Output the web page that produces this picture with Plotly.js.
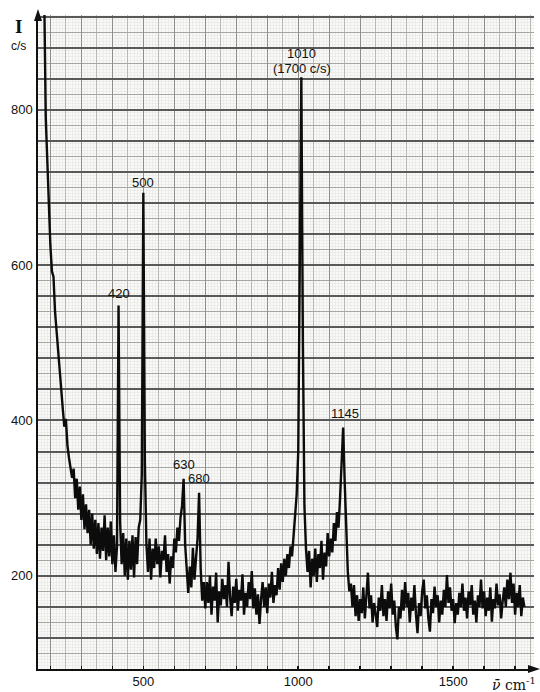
<!DOCTYPE html>
<html>
<head>
<meta charset="utf-8">
<script src="https://cdn.plot.ly/plotly-3.0.1.min.js"></script>
<style>
  html, body { margin: 0; padding: 0; background: #ffffff; }
  #chart { width: 540px; height: 692px; }
</style>
</head>
<body>
<div id="chart"></div>
<script>
// Raman scan: recorder sampled every 5 cm-1 starting at 175 cm-1
const scanStart = 175;
const scanStep = 5;

// Count rate (c/s), one value per sampling step
const intensity = [
  1000, 950, 790, 730, 680, 625, 592, 585, 540, 512,   // 175-220
  485, 462, 440, 415, 392, 402, 368, 352, 340, 326,    // 225-270
  338, 300, 325, 285, 315, 272, 305, 260, 292, 255,    // 275-320
  285, 240, 280, 235, 272, 228, 268, 222, 262, 232,    // 325-370
  278, 220, 262, 225, 270, 215, 252, 205, 238, 548,    // 375-420
  270, 215, 255, 200, 248, 195, 245, 208, 252, 198,    // 425-470
  250, 215, 262, 272, 330, 693, 345, 240, 205, 248,    // 475-520
  195, 235, 210, 248, 215, 238, 198, 232, 220, 252,    // 525-570
  205, 228, 190, 225, 210, 248, 230, 262, 245, 275,    // 575-620
  290, 325, 240, 205, 178, 212, 185, 236, 195, 222,    // 625-670
  248, 307, 210, 168, 192, 158, 192, 165, 200, 150,    // 675-720
  186, 168, 204, 140, 180, 162, 196, 170, 188, 160,    // 725-770
  218, 172, 148, 186, 165, 196, 155, 182, 168, 202,    // 775-820
  150, 178, 160, 192, 170, 206, 158, 184, 150, 176,    // 825-870
  138, 170, 192, 160, 185, 152, 190, 172, 205, 165,    // 875-920
  188, 175, 210, 182, 216, 192, 222, 200, 228, 210,    // 925-970
  238, 225, 255, 275, 305, 360, 560, 842, 500, 290,    // 975-1020
  235, 205, 232, 185, 222, 200, 235, 192, 228, 210,    // 1025-1070
  245, 195, 230, 212, 255, 225, 248, 230, 268, 245,    // 1075-1120
  282, 262, 300, 340, 391, 320, 248, 205, 180, 190,    // 1125-1170
  160, 188, 148, 175, 142, 170, 152, 185, 145, 178,    // 1175-1220
  204, 158, 175, 140, 165, 150, 134, 172, 155, 188,    // 1225-1270
  148, 170, 142, 180, 158, 190, 150, 168, 135, 118,    // 1275-1320
  160, 145, 182, 155, 192, 160, 178, 140, 172, 155,    // 1325-1370
  188, 150, 126, 165, 148, 180, 195, 158, 175, 145,    // 1375-1420
  128, 170, 152, 186, 160, 175, 140, 168, 150, 182,    // 1425-1470
  160, 201, 165, 185, 155, 170, 139, 165, 150, 178,    // 1475-1520
  160, 190, 155, 172, 145, 180, 162, 188, 150, 168,    // 1525-1570
  140, 175, 160, 195, 158, 180, 148, 172, 155, 185,    // 1575-1620
  141, 170, 158, 190, 162, 176, 145, 168, 185, 160,    // 1625-1670
  195, 170, 204, 165, 190, 150, 178, 160, 188, 148,    // 1675-1720
  172, 160                                             // 1725-1730
];

// Labelled bands (cm-1)
const peakPositions = [420, 500, 630, 680, 1010, 1145];
const peakLabels = ['420', '500', '630', '680', '1010', '1145'];
const peakNote = '(1700 c/s)';

// Axis labels
const xLabelValues = [500, 1000, 1500];
const yLabelValues = [200, 400, 600, 800];

// ---- traces ----
const wavenumber = intensity.map((_, i) => scanStart + i * scanStep);

const spectrum = {
  x: wavenumber,
  y: intensity,
  type: 'scatter',
  mode: 'lines',
  line: { color: '#0c0c0c', width: 2.4 },
  hoverinfo: 'skip',
  showlegend: false
};

// empty traces so each chart-paper grid layer gets its own overlay subplot
const gridHolder = (n) => ({
  x: [null], y: [null], xaxis: 'x' + n, yaxis: 'y' + n,
  type: 'scatter', mode: 'lines', hoverinfo: 'skip', showlegend: false
});

// ---- axes ----
const xRange = [160, 1761];
const yRange = [80, 922];

const tickFont = { family: 'Liberation Sans, Arial, sans-serif', size: 13, color: '#111' };
const labelFont = { family: 'Liberation Sans, Arial, sans-serif', size: 13, color: '#111' };

// chart-paper grid layer (no labels)
function paperX(n, tick0, dtick, color, width, extra) {
  return Object.assign({
    overlaying: 'x', anchor: 'y' + n, range: xRange,
    tickmode: 'linear', tick0: tick0, dtick: dtick,
    showgrid: true, gridcolor: color, gridwidth: width,
    showticklabels: false, ticks: '', showline: false, zeroline: false, fixedrange: true
  }, extra || {});
}
function paperY(n, tick0, dtick, color, width) {
  return {
    overlaying: 'y', anchor: 'x' + n, range: yRange,
    tickmode: 'linear', tick0: tick0, dtick: dtick,
    showgrid: true, gridcolor: color, gridwidth: width,
    showticklabels: false, ticks: '', showline: false, zeroline: false, fixedrange: true
  };
}

// label offsets above each peak top (px)
const labelLift = [12, 10, 14, 14, 24, 14];
const labelNudge = [0, 0, 0, 0, 0, 2];

const annotations = peakPositions.map((pos, k) => ({
  x: pos,
  y: intensity[(pos - scanStart) / scanStep],
  xref: 'x', yref: 'y',
  text: peakLabels[k],
  showarrow: false,
  xanchor: 'center', yanchor: 'middle',
  yshift: labelLift[k],
  xshift: labelNudge[k],
  font: labelFont
}));

const noteIdx = peakPositions.indexOf(1010);
annotations.push({
  x: peakPositions[noteIdx],
  y: intensity[(peakPositions[noteIdx] - scanStart) / scanStep],
  xref: 'x', yref: 'y',
  text: peakNote,
  showarrow: false,
  xanchor: 'center', yanchor: 'middle',
  yshift: 9, xshift: 1,
  font: labelFont
});

annotations.push({
  xref: 'paper', yref: 'paper', x: -0.0403, y: 0.982,
  text: '<b>I</b>', showarrow: false, xanchor: 'center', yanchor: 'middle',
  font: { family: 'Liberation Serif, Times New Roman, serif', size: 19, color: '#111' }
});
annotations.push({
  xref: 'paper', yref: 'paper', x: -0.0403, y: 0.953,
  text: 'c/s', showarrow: false, xanchor: 'center', yanchor: 'middle',
  font: { family: 'Liberation Sans, Arial, sans-serif', size: 12, color: '#111' }
});
annotations.push({
  xref: 'paper', yref: 'paper', x: 0.912, y: -0.023,
  text: '<i>\u03BD\u0304</i> cm<sup>-1</sup>', showarrow: false, xanchor: 'left', yanchor: 'middle',
  font: { family: 'DejaVu Serif, Liberation Serif, serif', size: 14, color: '#111' }
});

// plot area in pixels, for the arrow heads at the axis ends
const plotW = 540 - 38 - 6, plotH = 692 - 15 - 23;
const px = (x) => (x - 38) / plotW;
const py = (y) => (669 - y) / plotH;

const shapes = [
  { type: 'path', xref: 'paper', yref: 'paper', layer: 'above',
    path: `M ${px(34)} ${py(21)} L ${px(38)} ${py(9)} L ${px(42)} ${py(21)} Z`,
    fillcolor: '#111', line: { width: 0 } },
  { type: 'path', xref: 'paper', yref: 'paper', layer: 'above',
    path: `M ${px(528)} ${py(665)} L ${px(540)} ${py(669)} L ${px(528)} ${py(673)} Z`,
    fillcolor: '#111', line: { width: 0 } }
];

const layout = {
  width: 540,
  height: 692,
  margin: { l: 38, r: 6, t: 15, b: 23 },
  paper_bgcolor: '#ffffff',
  plot_bgcolor: '#f9f9f7',
  showlegend: false,
  xaxis: {
    range: xRange,
    tickmode: 'array', tickvals: xLabelValues, ticktext: xLabelValues.map(String),
    ticks: '',
    tickfont: tickFont,
    showgrid: false,
    showline: true, linecolor: '#111', linewidth: 1.6,
    zeroline: false, fixedrange: true
  },
  yaxis: {
    range: yRange,
    tickmode: 'array', tickvals: yLabelValues, ticktext: yLabelValues.map(String),
    ticks: '', ticklabelstandoff: 1,
    tickfont: tickFont,
    showgrid: false,
    showline: true, linecolor: '#111', linewidth: 1.6,
    zeroline: false, fixedrange: true
  },
  // fine millimetre mesh
  xaxis2: paperX(2, 0, 10, '#e8e8e5', 0.7),
  yaxis2: paperY(2, 0, 4, '#e8e8e5', 0.7),
  // half-centimetre lines
  xaxis3: paperX(3, 50, 100, '#b8b8b5', 1),
  yaxis3: paperY(3, 100, 40, '#a6a6a3', 1),
  // centimetre lines, with the small scale ticks every 100 cm-1
  xaxis4: paperX(4, 0, 100, '#8e8e8c', 1,
    { ticks: 'inside', ticklen: 3, tickwidth: 1.5, tickcolor: '#111' }),
  yaxis4: paperY(4, 0, 40, '#595959', 2),
  shapes: shapes,
  annotations: annotations
};

Plotly.newPlot('chart', [gridHolder(2), gridHolder(3), gridHolder(4), spectrum], layout,
  { staticPlot: true, displayModeBar: false });
</script>
</body>
</html>
